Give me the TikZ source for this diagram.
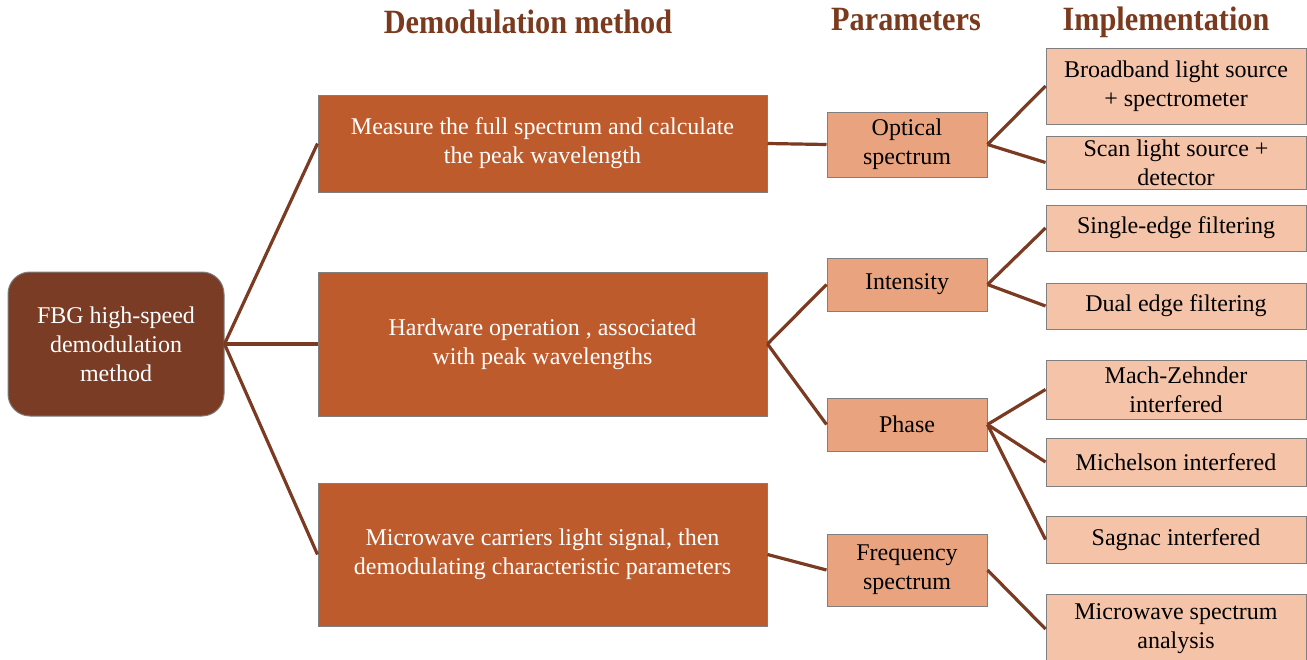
\documentclass[tikz,border=0pt]{standalone}
\usepackage{fontspec}
\setmainfont{Liberation Serif}
\newfontfamily\headfont[FakeStretch=0.89]{Liberation Serif}
\definecolor{rootfill}{HTML}{7A3C24}
\definecolor{methfill}{HTML}{BD5B2D}
\definecolor{parfill}{HTML}{E9A47F}
\definecolor{implfill}{HTML}{F5C3A7}
\definecolor{linkcol}{HTML}{7A3B22}
\definecolor{headcol}{HTML}{7B3A1E}
\definecolor{edgecol}{HTML}{7F7F7F}
\begin{document}
\begin{tikzpicture}[x=1pt,y=-1pt,
  base/.style={draw=edgecol,line width=1pt,align=center,inner sep=0pt,
    font=\fontsize{24}{29}\selectfont},
  rootbox/.style={base,fill=rootfill,text=white,rounded corners=22pt,
    minimum width=216pt,minimum height=144pt},
  methbox/.style={base,fill=methfill,text=white,minimum width=449pt},
  parbox/.style={base,fill=parfill,text=black,minimum width=160pt},
  implbox/.style={base,fill=implfill,text=black,minimum width=260pt},
  link/.style={draw=linkcol,line width=3.2pt},
  heading/.style={text=headcol,font=\headfont\bfseries\fontsize{34}{40}\selectfont}]
\useasboundingbox (0,0) rectangle (1307,659);

% column headings
\node[heading] (h1) at (528,22) {Demodulation method};
\node[heading] (h2) at (906,20) {Parameters};
\node[heading] (h3) at (1166,22) {Implementation};

% root
\node[rootbox] (root) at (116,344) {FBG high-speed\\demodulation\\method};

% demodulation methods
\node[methbox,minimum height=97pt] (m1) at (542.5,143.5)
  {Measure the full spectrum and calculate\\the peak wavelength};
\node[methbox,minimum height=144pt] (m2) at (542.5,344)
  {Hardware operation , associated\\with peak wavelengths};
\node[methbox,minimum height=143pt] (m3) at (542.5,554.5)
  {Microwave carriers light signal, then\\demodulating characteristic parameters};

% parameters
\node[parbox,minimum height=65pt] (p1) at (907,144.5) {Optical\\spectrum};
\node[parbox,minimum height=53pt] (p2) at (907,284.5) {Intensity};
\node[parbox,minimum height=53pt] (p3) at (907,424.5) {Phase};
\node[parbox,minimum height=72pt] (p4) at (907,570) {Frequency\\spectrum};

% implementations
\node[implbox,minimum height=76pt] (i1) at (1176,86) {Broadband light source\\+ spectrometer};
\node[implbox,minimum height=53pt] (i2) at (1176,162.5) {Scan light source +\\detector};
\node[implbox,minimum height=46pt] (i3) at (1176,228) {Single-edge filtering};
\node[implbox,minimum height=46pt] (i4) at (1176,306) {Dual edge filtering};
\node[implbox,minimum height=59pt] (i5) at (1176,389.5) {Mach-Zehnder\\interfered};
\node[implbox,minimum height=48pt] (i6) at (1176,462) {Michelson interfered};
\node[implbox,minimum height=47pt] (i7) at (1176,539.5) {Sagnac interfered};
\node[implbox,minimum height=70pt] (i8) at (1176,629) {Microwave spectrum\\analysis};

% connectors
\foreach \m in {m1,m2,m3} \draw[link] (root.east) -- (\m.west);
\draw[link] (m1.east) -- (p1.west);
\draw[link] (m2.east) -- (p2.west);
\draw[link] (m2.east) -- (p3.west);
\draw[link] (m3.east) -- (p4.west);
\draw[link] (p1.east) -- (i1.west);
\draw[link] (p1.east) -- (i2.west);
\draw[link] (p2.east) -- (i3.west);
\draw[link] (p2.east) -- (i4.west);
\draw[link] (p3.east) -- (i5.west);
\draw[link] (p3.east) -- (i6.west);
\draw[link] (p3.east) -- (i7.west);
\draw[link] (p4.east) -- (i8.west);
\end{tikzpicture}
\end{document}
